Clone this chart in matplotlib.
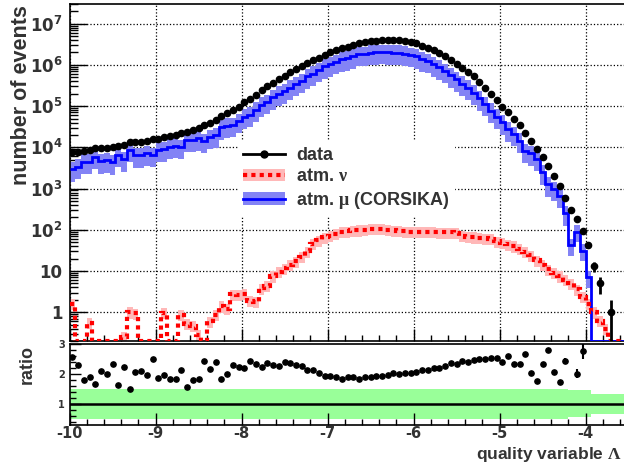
# data / MC comparison of the quality variable Lambda (ROOT-style)

import numpy as np
import matplotlib
matplotlib.use("Agg")
import matplotlib.pyplot as plt
from matplotlib.lines import Line2D
from matplotlib.patches import Patch
from matplotlib.ticker import FixedLocator, MultipleLocator, NullFormatter

plt.rcParams['font.family'] = ['Liberation Sans', 'DejaVu Sans']
plt.rcParams['font.weight'] = 'bold'
plt.rcParams['mathtext.fontset'] = 'custom'
plt.rcParams['mathtext.rm'] = 'Liberation Serif'
plt.rcParams['mathtext.bf'] = 'DejaVu Sans:bold'

# 1. DATA (bin width 1/15, starting at Lambda = -10)

lambda_lo = -10.0
bin_width = 1.0 / 15

data_counts = [
    7600, 7900, 8100, 8500, 9800, 9500, 9800, 10200, 10700, 11500,
    13200, 13200, 13500, 14100, 16200, 16200, 17800, 19000, 20000, 21900,
    24000, 26900, 30200, 34700, 38900, 46800, 56200, 67600, 81300, 97700,
    123000, 151000, 191000, 240000, 302000, 372000, 457000, 550000, 661000, 794000,
    933000, 1120000, 1320000, 1510000, 1780000, 2000000, 2240000, 2510000, 2750000, 3020000,
    3390000, 3550000, 3720000, 3890000, 3980000, 3980000, 3980000, 3980000, 3800000, 3590000,
    3310000, 2950000, 2630000, 2290000, 1950000, 1620000, 1320000, 1050000, 851000, 676000,
    525000, 389000, 282000, 195000, 141000, 97700, 70800, 49000, 33900, 21900,
    14500, 9330, 5750, 3550, 2040, 1150, 603, 302, 182, 93,
    43, 13, 5, 0, 1, 0, 0, 0, 0,
]

mu_counts = [
    2950, 3420, 4480, 4470, 5900, 4550, 4880, 4380, 6600, 5180,
    8800, 6380, 6430, 7120, 6480, 8620, 9040, 10400, 11000, 10300,
    15200, 15000, 16500, 14200, 17900, 19600, 30900, 33800, 35200, 44000,
    55700, 62400, 82000, 108000, 127000, 162000, 201000, 230000, 280000, 344000,
    409000, 523000, 617000, 748000, 922000, 1040000, 1180000, 1360000, 1460000, 1600000,
    1830000, 1860000, 1970000, 2010000, 2070000, 2010000, 1970000, 1980000, 1870000, 1760000,
    1610000, 1380000, 1240000, 1040000, 882000, 714000, 559000, 451000, 352000, 280000,
    212000, 156000, 113000, 77400, 55700, 40500, 27300, 21000, 14500, 8230,
    7180, 5240, 2470, 1270, 985, 661, 248, 42, 90, 31,
    7, 0, 0, 0, 0, 0, 0, 0, 0,
]

nu_counts = [
    1.6, 0, 0, 0.55, 0, 0, 0, 0, 0, 0.25,
    1.0, 0.93, 0, 0, 0, 0, 0.95, 0, 0, 0.85,
    0.53, 0.46, 0.28, 0, 0.6, 0.85, 1.4, 1.2, 2.7, 2.6,
    2.8, 1.9, 1.8, 3.8, 4.3, 7.5, 9.5, 11.5, 14, 17,
    22, 30, 45, 55, 65, 72, 80, 88, 92, 96,
    98, 100, 104, 106, 105, 100, 96, 94, 92, 90,
    90, 89, 88, 88, 87, 86, 86, 84, 72, 68,
    66, 64, 62, 60, 52, 48, 44, 40, 35, 29,
    24, 18, 14, 11, 9, 7.5, 6.2, 5, 3.6, 2.4,
    1.6, 1.0, 0.62, 0.4, 0, 0, 0, 0, 0,
]

ratio_vals = [
    2.58, 2.31, 1.81, 1.90, 1.66, 2.09, 2.01, 2.33, 1.62, 2.22,
    1.50, 2.07, 2.10, 1.98, 2.50, 1.88, 1.97, 1.83, 1.82, 2.13,
    1.58, 1.79, 1.83, 2.44, 2.17, 2.39, 1.82, 2.00, 2.31, 2.22,
    2.21, 2.42, 2.33, 2.22, 2.38, 2.29, 2.27, 2.39, 2.36, 2.31,
    2.28, 2.14, 2.14, 2.02, 1.93, 1.93, 1.90, 1.84, 1.89, 1.89,
    1.85, 1.91, 1.89, 1.94, 1.92, 1.98, 2.02, 2.01, 2.03, 2.04,
    2.06, 2.13, 2.12, 2.20, 2.21, 2.27, 2.36, 2.33, 2.42, 2.41,
    2.48, 2.49, 2.49, 2.52, 2.53, 2.41, 2.59, 2.33, 2.33, 2.66,
    2.02, 1.78, 2.33, 2.80, 2.07, 1.74, 2.43, np.nan, 2.01, 2.78,
    np.nan, np.nan, np.nan, np.nan, np.nan, np.nan, np.nan, np.nan, np.nan,
]

# relative MC uncertainty (green band in the ratio panel)
band_half = [0.5] * 87 + [0.45] * 4 + [0.32] * 8
nu_rel_err = 0.3

# 2. DERIVED ARRAYS

data = np.array(data_counts, dtype=float)
mu = np.array(mu_counts, dtype=float)
nu = np.array(nu_counts, dtype=float)
ratio = np.array(ratio_vals, dtype=float)
band = np.array(band_half, dtype=float)

nb = len(data)
edges = lambda_lo + bin_width * np.arange(nb + 1)
centers = 0.5 * (edges[:-1] + edges[1:])

y_bottom, y_top = 0.2, 3e7
floor = lambda v: np.where(v > 0, v, y_bottom)

# 3. FIGURE

W, H = 624, 463
fig = plt.figure(figsize=(W / 100, H / 100), dpi=100)
xscale = 86.0
xmax = -3.4
ax_w = (xmax - lambda_lo) * xscale / W
ax = fig.add_axes([69.5 / W, 1 - 341 / H, ax_w, 337 / H])
axr = fig.add_axes([69.5 / W, 1 - 425 / H, ax_w, 81 / H], sharex=ax)

txt_col = '#333333'
tick_font = {'family': 'DejaVu Sans', 'weight': 'bold'}
mu_band_col = '#8383f5'
nu_band_col = '#ffb8b8'

# mu band + line
mu_pos = mu > 0
ax.stairs(np.where(mu_pos, mu * (1 + band), np.nan), edges,
          baseline=np.where(mu_pos, mu * (1 - band), np.nan),
          fill=True, color=mu_band_col, lw=0, zorder=2)
ax.stairs(floor(mu), edges, baseline=None, color='blue', lw=2, zorder=3)

# nu band + line
nu_pos = nu > 0
ax.stairs(np.where(nu_pos, nu * (1 + nu_rel_err), np.nan), edges,
          baseline=np.where(nu_pos, nu * (1 - nu_rel_err), np.nan),
          fill=True, color=nu_band_col, lw=0, zorder=2)
ax.stairs(floor(nu), edges, baseline=None, color='red', lw=3,
          ls=(0, (1, 1)), zorder=4)

# data points
dpos = data > 0
ax.errorbar(centers[dpos], data[dpos], yerr=np.sqrt(data[dpos]), fmt='o',
            color='black', ms=4.5, elinewidth=2, capsize=0, zorder=5)

ax.set_yscale('log')
ax.set_ylim(y_bottom, y_top)
ax.set_xlim(lambda_lo, xmax)

decades = [1, 10, 1e2, 1e3, 1e4, 1e5, 1e6, 1e7]
dec_labels = ['1', '10', r'$\mathbf{10^{2}}$', r'$\mathbf{10^{3}}$', r'$\mathbf{10^{4}}$',
              r'$\mathbf{10^{5}}$', r'$\mathbf{10^{6}}$', r'$\mathbf{10^{7}}$']
ax.yaxis.set_major_locator(FixedLocator(decades))
ax.set_yticklabels(dec_labels, fontdict=tick_font)
minors = [m * 10.0 ** e for e in range(-1, 8) for m in range(2, 10)]
ax.yaxis.set_minor_locator(FixedLocator(minors))
ax.yaxis.set_minor_formatter(NullFormatter())

ax.xaxis.set_major_locator(MultipleLocator(1))
ax.xaxis.set_minor_locator(MultipleLocator(0.2))
ax.grid(True, which='major', ls=':', color='black', lw=0.9, zorder=1)

ax.tick_params(axis='y', which='major', direction='in', length=12, width=1,
               labelsize=12, colors='black', labelcolor=txt_col, pad=5)
ax.tick_params(axis='y', which='minor', direction='in', length=6, width=1)
ax.tick_params(axis='x', which='major', direction='in', length=9, width=1,
               labelbottom=False)
ax.tick_params(axis='x', which='minor', direction='in', length=4, width=1)
for s in ax.spines.values():
    s.set_linewidth(1.2)

# legend
h_data = Line2D([], [], color='black', lw=2, marker='o', ms=5)
h_nu = (Patch(facecolor=nu_band_col, edgecolor='none'),
        Line2D([], [], color='red', lw=3, ls=(0, (1, 1))))
h_mu = (Patch(facecolor=mu_band_col, edgecolor='none'),
        Line2D([], [], color='blue', lw=2))
leg = ax.legend([h_data, h_nu, h_mu],
                ['data', r'atm. $\mathrm{\nu}$', r'atm. $\mathrm{\mu}$ (CORSIKA)'],
                loc='upper left', bbox_to_anchor=(0.281, 0.619),
                frameon=True, fancybox=False, framealpha=1,
                facecolor='white', edgecolor='white',
                fontsize=13, handlelength=2.3, handletextpad=0.6,
                labelspacing=0.25, borderpad=0.3)
for t in leg.get_texts():
    t.set_color(txt_col)
leg.set_zorder(6)

fig.text(22 / W, 1 - 95 / H, 'number of events', rotation=90, ha='center',
         va='center', fontsize=15.5, color=txt_col)

# 4. RATIO PANEL

rb = np.append(band, band[-1])
axr.fill_between(edges, 1 - rb, 1 + rb, step='post', color='#99ff99', lw=0, zorder=1)
axr.axhline(1, color='black', lw=1.8, zorder=2)
rerr = ratio / np.sqrt(np.where(data > 0, data, 1))
axr.errorbar(centers, ratio, yerr=rerr, fmt='o', color='black', ms=3.8,
             elinewidth=1.5, capsize=0, zorder=3)

axr.set_ylim(0.3, 3.0)
axr.yaxis.set_major_locator(FixedLocator([1, 2, 3]))
axr.set_yticklabels(['1', '2', '3'], fontdict=tick_font)
axr.yaxis.set_minor_locator(MultipleLocator(0.2))
axr.tick_params(axis='y', which='major', direction='in', length=8, width=1,
                labelsize=7, labelcolor=txt_col, pad=3.5)
axr.tick_params(axis='y', which='minor', direction='in', length=4, width=1)
axr.tick_params(axis='x', which='major', direction='in', length=9, width=1,
                labelsize=10.5, labelcolor=txt_col, pad=0.8)
axr.tick_params(axis='x', which='minor', direction='in', length=4, width=1)
axr.set_xticks([-10, -9, -8, -7, -6, -5, -4])
axr.set_xticklabels(['-10', '-9', '-8', '-7', '-6', '-5', '-4'], fontdict=tick_font)
for s in axr.spines.values():
    s.set_linewidth(1.2)

fig.text(27 / W, 1 - 364 / H, 'ratio', rotation=90, ha='center', va='center',
         fontsize=13, color=txt_col)
fig.text(622 / W, 1 - 458.5 / H, r'quality variable $\mathrm{\Lambda}$', ha='right',
         va='baseline', fontsize=12.5, color=txt_col)

fig.savefig('out.png', dpi=100)
